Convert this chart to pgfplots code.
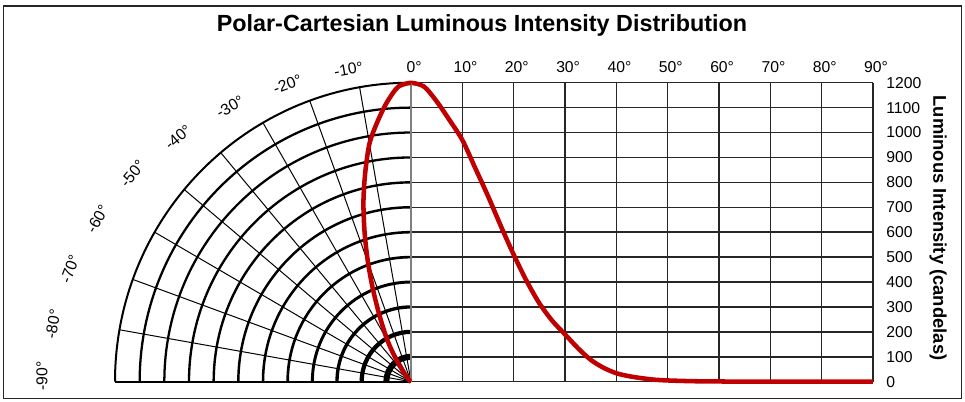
\documentclass[border=0pt]{standalone}
\usepackage{pgfplots}
\usepackage{pgfplotstable}
\pgfplotsset{compat=1.18}
\usepackage{fontspec}
\setmainfont{Liberation Sans}
\definecolor{curvered}{HTML}{C00000}
\pgfplotstableread{
a I
0 1200
2.5 1185
5 1125
7.5 1050
10 970
12.5 858
15 745
17.5 625
20 510
22.5 405
25 315
27.5 245
30 190
32.5 135
35 88
37.5 56
40 34
42.5 22
45 14
47.5 8
50 5
55 2
60 1
65 0
70 0
75 0
80 0
85 0
90 0
}\lid
\newcommand\parc[2]{\draw[line width=#2] (axis cs:-#1,0) arc[start angle=180,end angle=90,x radius=#1*0.185pt,y radius=#1*0.186875pt];}
\begin{document}
\begin{tikzpicture}
\path[use as bounding box] (0pt,0pt) rectangle (723.75pt,300.75pt);
\begin{scope}[x=0.75pt,y=0.75pt]
\draw[line width=1.1pt,black!85] (3.5,395) rectangle (961.5,2.5);
\node[font=\bfseries\fontsize{17.5}{20}\selectfont,anchor=base] at (482,369) {Polar-Cartesian Luminous Intensity Distribution};
\end{scope}
% Cartesian part
\begin{axis}[
  at={(308.25pt,14.475pt)}, anchor=south west, scale only axis,
  width=346.5pt, height=224.25pt,
  xmin=0, xmax=90, ymin=0, ymax=1200,
  xtick={0,10,...,90}, ytick={0,100,...,1200},
  xticklabels={{0\rlap{°}},{10\rlap{°}},{20\rlap{°}},{30\rlap{°}},{40\rlap{°}},{50\rlap{°}},{60\rlap{°}},{70\rlap{°}},{80\rlap{°}},{90\rlap{°}}},
  xticklabel pos=upper, yticklabel pos=right,
  major tick length=0pt,
  axis line style={draw=none},
  grid=major, grid style={black!85, line width=1.1pt},
  ticklabel style={font=\fontsize{11.8}{14}\selectfont},
  xticklabel style={anchor=south, inner sep=0pt, yshift=7pt},
  yticklabel style={anchor=west, inner sep=0pt, xshift=9.75pt},
  /pgf/number format/assume math mode=true,
  /pgf/number format/1000 sep={},
  clip=false,
]
\addplot[curvered, line width=3.4pt, line join=round, smooth, tension=0.5] table[x=a, y=I] {\lid};
\end{axis}
% Polar part
\begin{axis}[
  at={(308.25pt,14.475pt)}, anchor=south east, scale only axis,
  width=222pt, height=224.25pt,
  xmin=-1200, xmax=0, ymin=0, ymax=1200,
  hide axis, clip=false,
]
\parc{1200}{1.5pt}
\parc{1100}{1.7pt}
\parc{1000}{1.7pt}
\parc{900}{1.75pt}
\parc{800}{1.8pt}
\parc{700}{1.85pt}
\parc{600}{1.9pt}
\parc{500}{2pt}
\parc{400}{2.2pt}
\parc{300}{2.5pt}
\parc{200}{3.2pt}
\parc{100}{4.5pt}
\draw[line width=0.75pt] (axis cs:0,0) -- (axis cs:-208.4,1181.8);
\draw[line width=0.75pt] (axis cs:0,0) -- (axis cs:-410.4,1127.6);
\draw[line width=0.75pt] (axis cs:0,0) -- (axis cs:-600,1039.2);
\draw[line width=0.75pt] (axis cs:0,0) -- (axis cs:-771.3,919.3);
\draw[line width=0.75pt] (axis cs:0,0) -- (axis cs:-919.3,771.3);
\draw[line width=0.75pt] (axis cs:0,0) -- (axis cs:-1039.2,600);
\draw[line width=0.75pt] (axis cs:0,0) -- (axis cs:-1127.6,410.4);
\draw[line width=0.75pt] (axis cs:0,0) -- (axis cs:-1181.8,208.4);
\draw[line width=1.5pt] (axis cs:-1200,0) -- (axis cs:0,0);
\draw[line width=1.4pt, gray] (axis cs:0,0) -- (axis cs:0,1200);
\addplot[curvered, line width=3.4pt, line join=round, smooth, tension=0.5] table[x expr={-\thisrow{I}*sin(\thisrow{a})}, y expr={\thisrow{I}*cos(\thisrow{a})}] {\lid};
\end{axis}
\begin{scope}[x=0.75pt,y=0.75pt,font=\fontsize{11.8}{14}\selectfont]
\node[rotate=10] at (348.5,331.5) {-10°};
\node[rotate=20] at (287.5,317) {-20°};
\node[rotate=30] at (230,294) {-30°};
\node[rotate=40] at (178,263.5) {-40°};
\node[rotate=50] at (132.5,227.5) {-50°};
\node[rotate=60] at (97.5,182) {-60°};
\node[rotate=70] at (70,132) {-70°};
\node[rotate=80] at (53,77) {-80°};
\node[rotate=90] at (42,25) {-90°};
\node[font=\bfseries\fontsize{13.8}{16}\selectfont, rotate=-90] at (938,173) {Luminous Intensity (candelas)};
\end{scope}
\end{tikzpicture}
\end{document}
